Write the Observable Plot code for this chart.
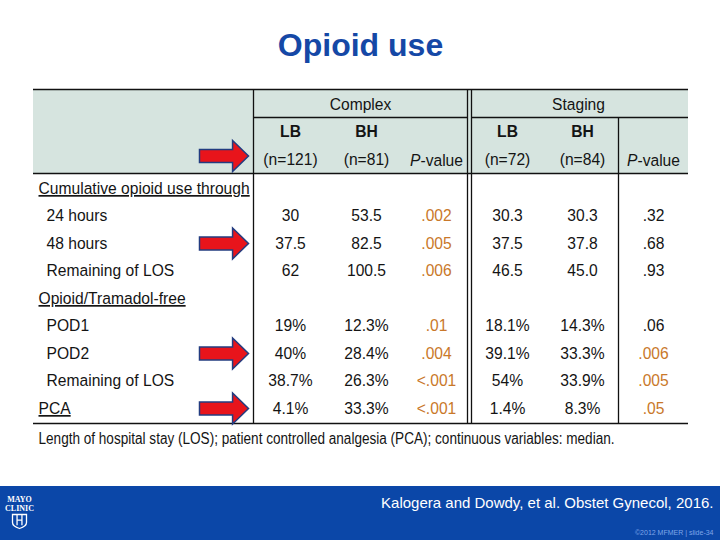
<!DOCTYPE html>
<html>
<head>
<meta charset="utf-8">
<script src="https://cdn.jsdelivr.net/npm/d3@7"></script>
<script src="https://cdn.jsdelivr.net/npm/@observablehq/plot@0.6"></script>
<style>
  html, body { margin: 0; padding: 0; background: #fff; }
  #chart { width: 720px; height: 540px; overflow: hidden; }
</style>
</head>
<body>
<div id="chart"></div>
<script>
// ---------- DATA ----------
const title = "Opioid use";
const groups = ["Complex", "Staging"];
const armLabels = ["LB", "BH", "", "LB", "BH", ""];
const armN = ["(n=121)", "(n=81)", "P-value", "(n=72)", "(n=84)", "P-value"];
const rowLabels = [
  "Cumulative opioid use through", "24 hours", "48 hours", "Remaining of LOS",
  "Opioid/Tramadol-free", "POD1", "POD2", "Remaining of LOS", "PCA"
];
const sectionRows = [0, 4, 8];
const complexLB = ["", "30", "37.5", "62", "", "19%", "40%", "38.7%", "4.1%"];
const complexBH = ["", "53.5", "82.5", "100.5", "", "12.3%", "28.4%", "26.3%", "33.3%"];
const complexP = ["", ".002", ".005", ".006", "", ".01", ".004", "<.001", "<.001"];
const stagingLB = ["", "30.3", "37.5", "46.5", "", "18.1%", "39.1%", "54%", "1.4%"];
const stagingBH = ["", "30.3", "37.8", "45.0", "", "14.3%", "33.3%", "33.9%", "8.3%"];
const stagingP = ["", ".32", ".68", ".93", "", ".06", ".006", ".005", ".05"];
const stagingSignificant = [false, false, false, false, false, false, true, true, true];
const arrowRows = [-1, 2, 6, 8]; // -1 = header (n=) row
const caption = "Length of hospital stay (LOS); patient controlled analgesia (PCA); continuous variables: median.";
const citation = "Kalogera and Dowdy, et al. Obstet Gynecol, 2016.";
const copyright = "©2012 MFMER | slide-34";

// ---------- LAYOUT ----------
const tL = 33, tR = 688, tTop = 89, tMid = 117, tHeadBot = 173, tBot = 423;
const colX = [290, 366, 436, 507, 582, 653];
const rowY = i => 188 + i * 27.5;
const orange = "#c9782a";
const ink = "#141414";
const FS = 17;

const columns = [complexLB, complexBH, complexP, stagingLB, stagingBH, stagingP];
const cells = [];
columns.forEach((col, c) => col.forEach((v, i) => {
  if (v === "") return;
  let color = ink;
  if (c === 2) color = orange;
  if (c === 5 && stagingSignificant[i]) color = orange;
  cells.push({x: colX[c], y: rowY(i), text: v, color});
}));
const rows = rowLabels.map((t, i) => ({t, i, section: sectionRows.includes(i)}));

const arrowSymbol = {
  draw(ctx, size) {
    const r = Math.sqrt(size / Math.PI);
    ctx.moveTo(-r, -0.27 * r);
    ctx.lineTo(0.35 * r, -0.27 * r);
    ctx.lineTo(0.35 * r, -0.63 * r);
    ctx.lineTo(r, 0);
    ctx.lineTo(0.35 * r, 0.63 * r);
    ctx.lineTo(0.35 * r, 0.27 * r);
    ctx.lineTo(-r, 0.27 * r);
    ctx.closePath();
  }
};
const shieldSymbol = {
  draw(ctx, size) {
    const r = Math.sqrt(size / Math.PI);
    ctx.moveTo(-r, -r);
    ctx.lineTo(r, -r);
    ctx.lineTo(r, 0.15 * r);
    ctx.quadraticCurveTo(r, 0.7 * r, 0, r);
    ctx.quadraticCurveTo(-r, 0.7 * r, -r, 0.15 * r);
    ctx.closePath();
    ctx.moveTo(-0.35 * r, -r); ctx.lineTo(-0.35 * r, 0.55 * r);
    ctx.moveTo(0.35 * r, -r); ctx.lineTo(0.35 * r, 0.55 * r);
    ctx.moveTo(-0.35 * r, -0.2 * r); ctx.lineTo(0.35 * r, -0.2 * r);
  }
};

const font = "'Liberation Sans', Arial, sans-serif";

const plot = Plot.plot({
  width: 720,
  height: 540,
  margin: 0,
  x: {domain: [0, 720], range: [0, 720], axis: null},
  y: {domain: [0, 540], range: [0, 540], axis: null},
  color: {type: "identity"},
  style: {fontFamily: font, background: "#fff"},
  marks: [
    // title
    Plot.text([title], {x: 360, y: 45, text: d => d, fontSize: 32, fontWeight: "bold", fill: "#1548a6"}),
    // header background
    Plot.rect([0], {x1: tL, x2: tR, y1: tTop, y2: tHeadBot, fill: "#d6e4df"}),
    // horizontal rules
    Plot.ruleY([tTop, tHeadBot, tBot], {y: d => d, x1: tL, x2: tR, stroke: "#111", strokeWidth: 1.5}),
    Plot.ruleY([[253, 467], [471, tR]], {y: tMid, x1: d => d[0], x2: d => d[1], stroke: "#111", strokeWidth: 1.3}),
    // vertical rules
    Plot.ruleX([253, 467, 471], {x: d => d, y1: tTop, y2: tBot, stroke: "#111", strokeWidth: 1.3}),
    Plot.ruleX([618], {x: d => d, y1: tMid, y2: tBot, stroke: "#111", strokeWidth: 1.3}),
    // group headers
    Plot.text(groups, {x: (d, i) => [360, 578][i], y: 104, text: d => d, fontSize: FS, fill: ink}),
    Plot.text(armLabels, {x: (d, i) => colX[i], y: 131, text: d => d, fontSize: FS, fontWeight: "bold", fill: ink}),
    Plot.text(armN, {x: (d, i) => colX[i], y: (d, i) => (i === 2 || i === 5) ? 160 : 159, text: d => d, fontSize: FS, fill: ink}),
    // row labels
    Plot.text(rows, {x: d => d.section ? 38 : 46, y: d => rowY(d.i), text: "t", textAnchor: "start", fontSize: FS, fill: ink}),
    // cells
    Plot.text(cells, {x: "x", y: "y", text: "text", fill: "color", fontSize: FS}),
    // arrows
    Plot.dot(arrowRows, {x: 223.5, y: d => d < 0 ? 155.5 : rowY(d), symbol: arrowSymbol, r: 24.5, fill: "#e8141b", stroke: "#233c80", strokeWidth: 1.5}),
    // caption
    Plot.text([caption], {x: 38, y: 438, text: d => d, textAnchor: "start", fontSize: 16, fill: ink}),
    // footer band
    Plot.rect([0], {x1: 0, x2: 720, y1: 486, y2: 540, fill: "#0b47a8"}),
    Plot.text([citation], {x: 713, y: 503, text: d => d, textAnchor: "end", fontSize: 15, fill: "#fff"}),
    Plot.text([copyright], {x: 713, y: 532, text: d => d, textAnchor: "end", fontSize: 7, fill: "#7fa6e8"}),
    // Mayo logo
    Plot.text(["MAYO", "CLINIC"], {x: 19, y: (d, i) => 499 + i * 9, text: d => d, fontSize: 8, fontWeight: "bold", fontFamily: "'Liberation Serif', serif", fill: "#fff"}),
    Plot.dot([0], {x: 19, y: 521, symbol: shieldSymbol, r: 7, fill: "none", stroke: "#fff", strokeWidth: 1.3})
  ]
});

// post-processing: underline section labels, italic P, caption width, narrow table text
const sectionLabels = sectionRows.map(i => rowLabels[i]);
d3.select(plot).selectAll("text").each(function() {
  const el = d3.select(this);
  const t = this.textContent;
  const g = this.parentNode;
  if (g && g.getAttribute && g.getAttribute("font-size") === String(FS)) {
    const tr = this.getAttribute("transform");
    if (tr) this.setAttribute("transform", tr + " scale(0.92,1)");
  }
  if (sectionLabels.includes(t)) el.style("text-decoration", "underline");
  if (t === "P-value") {
    el.text(null);
    el.append("tspan").attr("font-style", "italic").text("P");
    el.append("tspan").text("-value");
  }
  if (t === caption) el.attr("textLength", 576).attr("lengthAdjust", "spacingAndGlyphs");
});

document.getElementById("chart").append(plot);
</script>
</body>
</html>
